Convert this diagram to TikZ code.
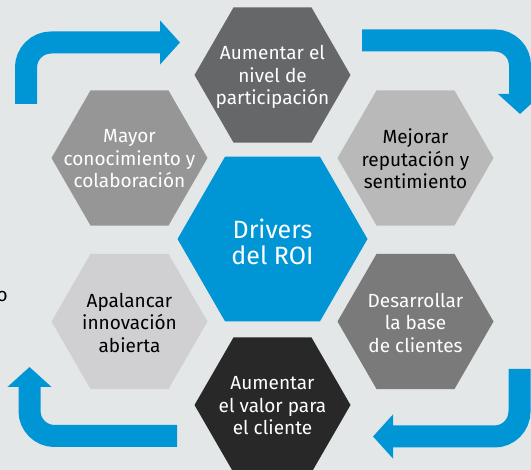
\documentclass[tikz,border=0pt]{standalone}
\usepackage{fontspec}
\setmainfont{Fira Sans}
\usetikzlibrary{arrows.meta, positioning, shapes.geometric}
\definecolor{bg}{RGB}{228,231,232}
\definecolor{hpblue}{RGB}{0,150,214}
\definecolor{hexA}{RGB}{102,103,105}
\definecolor{hexB}{RGB}{150,150,150}
\definecolor{hexC}{RGB}{185,185,186}
\definecolor{hexD}{RGB}{208,208,210}
\definecolor{hexE}{RGB}{122,122,122}
\definecolor{hexF}{RGB}{40,40,40}

\begin{document}
\begin{tikzpicture}[x=1pt,y=-1pt,on grid,
    hexa/.style={regular polygon, regular polygon sides=6, minimum size=156pt, inner sep=0pt, outer sep=0pt},
    txt/.style={align=center, font=\fontsize{19}{22.5}\selectfont, text=white, inner sep=0pt},
    bendarrow/.style={draw=hpblue, line width=22pt, rounded corners=25pt, -{Triangle[length=20pt,width=43pt]}}]

	\fill [bg] (0,0) rectangle (531,470);
	\useasboundingbox (0,0) rectangle (531,470);

	% hexagons round the centre
	\node (drv) [hexa, fill=hpblue, minimum size=190pt] at (272.5,239) {};
	\node (par) [hexa, fill=hexA, above=164pt of drv] {};
	\node (con) [hexa, fill=hexB, above left=81pt and 143pt of drv] {};
	\node (rep) [hexa, fill=hexC, above right=81pt and 143pt of drv] {};
	\node (inn) [hexa, fill=hexD, below left=82.5pt and 143pt of drv] {};
	\node (cli) [hexa, fill=hexE, below right=82.5pt and 143pt of drv] {};
	\node (val) [hexa, fill=hexF, below=166pt of drv] {};

	\node (drv-t) [txt, font=\fontsize{25}{25.5}\selectfont] at ([yshift=-3pt]drv) {Drivers\\del ROI};
	\node (par-t) [txt] at ([yshift=-2pt]par) {Aumentar el\\nivel de\\participación};
	\node (con-t) [txt] at ([yshift=-1pt]con) {Mayor\\conocimiento y\\colaboración};
	\node (rep-t) [txt, text=black] at ([yshift=-1pt]rep) {Mejorar\\reputación y\\sentimiento};
	\node (inn-t) [txt, text=black] at ([yshift=-1pt]inn) {Apalancar\\innovación\\abierta};
	\node (cli-t) [txt] at ([yshift=-1pt]cli) {Desarrollar\\la base\\de clientes};
	\node (val-t) [txt] at ([yshift=-1pt]val) {Aumentar\\el valor para\\el cliente};
	\node (cut) [txt, text=black, anchor=base east] at (8,302) {o};

	% bent arrows
	\coordinate (a1) at (26,104);
	\coordinate (a2) at (180,42.5);
	\coordinate (b1) at (362,40.5);
	\coordinate (b2) at (520,114);
	\coordinate (c1) at (519.5,369);
	\coordinate (c2) at (373,436.5);
	\coordinate (d1) at (177,436);
	\coordinate (d2) at (29.5,367);
	\draw [bendarrow] (a1) |- (a2);
	\draw [bendarrow] (b1) -| (b2);
	\draw [bendarrow] (c1) |- (c2);
	\draw [bendarrow] (d1) -| (d2);
\end{tikzpicture}
\end{document}
